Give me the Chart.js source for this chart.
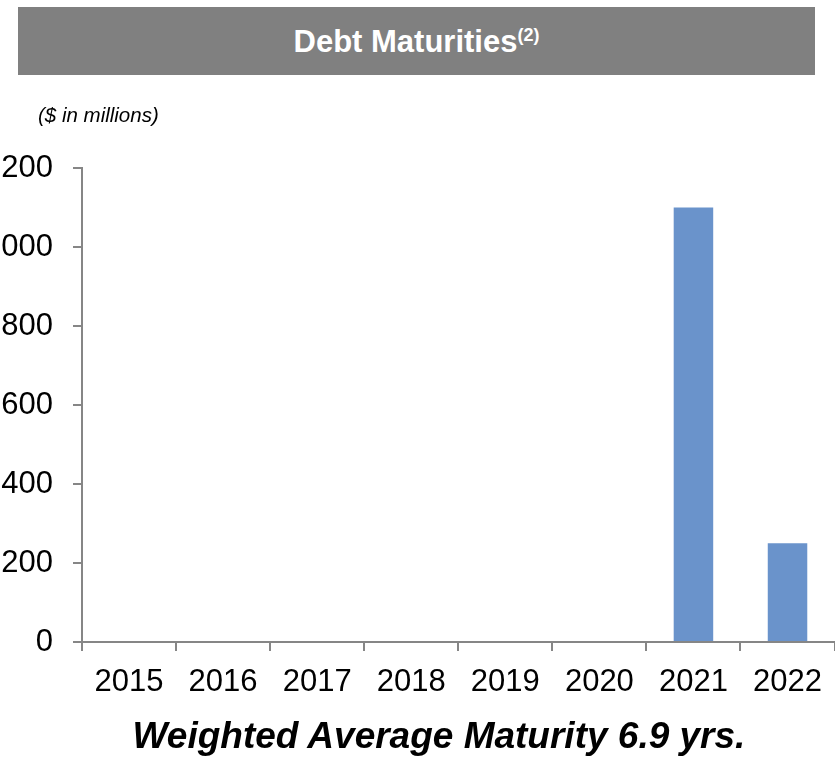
<!DOCTYPE html>
<html>
<head>
<meta charset="utf-8">
<script src="https://cdn.jsdelivr.net/npm/chart.js@4.4.0/dist/chart.umd.min.js"></script>
<style>
  body { margin: 0; background: #fff; font-family: Arial, "Liberation Sans", sans-serif; }
  #wrap { position: relative; width: 835px; height: 771px; overflow: hidden; }
  #header {
    position: absolute; left: 18px; top: 7px; width: 797px; height: 68px;
    background: #808080; color: #fff; font-weight: bold; font-size: 31px;
    text-align: center; line-height: 70px;
  }
  #header sup { font-size: 18px; vertical-align: 11px; line-height: 0; }
  #units { position: absolute; left: 38px; top: 103px; font-size: 20.5px; font-style: italic; color: #000; }
  #footer {
    position: absolute; left: 0; width: 878px; top: 715px; text-align: center;
    font-size: 37px; font-weight: bold; font-style: italic; color: #000;
  }
  #chartBox { position: absolute; left: 0; top: 0; width: 835px; height: 771px; }
</style>
</head>
<body>
<div id="wrap">
  <div id="chartBox"><canvas id="debtChart" width="835" height="771"></canvas></div>
  <div id="header">Debt Maturities<sup>(2)</sup></div>
  <div id="units">($ in millions)</div>
  <div id="footer">Weighted Average Maturity 6.9 yrs.</div>
</div>
<script>
// Debt maturities by year ($ in millions)
const years = ['2015', '2016', '2017', '2018', '2019', '2020', '2021', '2022'];
const maturities = [0, 0, 0, 0, 0, 0, 1100, 250];
const yTicks = [0, 200, 400, 600, 800, 1000, 1200];

const axisGray = '#868686';
const ctx = document.getElementById('debtChart').getContext('2d');

new Chart(ctx, {
    type: 'bar',
    data: {
        labels: years,
        datasets: [{
            label: 'Debt Maturities',
            data: maturities,
            backgroundColor: '#6A93CB',
            categoryPercentage: 1,
            barPercentage: 0.42
        }]
    },
    options: {
        responsive: false,
        animation: false,
        maintainAspectRatio: false,
        layout: { padding: { top: 168, bottom: 69, left: 0, right: 0 } },
        plugins: { legend: { display: false }, tooltip: { enabled: false } },
        scales: {
            x: {
                grid: { offset: true, drawOnChartArea: false, drawTicks: true, tickLength: 9, color: axisGray, lineWidth: 2 },
                border: { color: axisGray, width: 2 },
                ticks: { color: '#000', font: { family: 'Arial, "Liberation Sans"', size: 31 }, padding: 13, maxRotation: 0, autoSkip: false },
                afterFit: s => { s.height = 60; }
            },
            y: {
                min: 0,
                max: 1200,
                afterBuildTicks: s => { s.ticks = yTicks.map(v => ({ value: v })); },
                grid: { drawOnChartArea: false, drawTicks: true, tickLength: 9, color: axisGray, lineWidth: 2 },
                border: { color: axisGray, width: 2 },
                ticks: {
                    color: '#000',
                    font: { family: 'Arial, "Liberation Sans"', size: 31 },
                    padding: 20,
                    callback: v => v.toLocaleString('en-US')
                },
                afterFit: s => { s.width = 82; }
            }
        }
    }
});
</script>
</body>
</html>
